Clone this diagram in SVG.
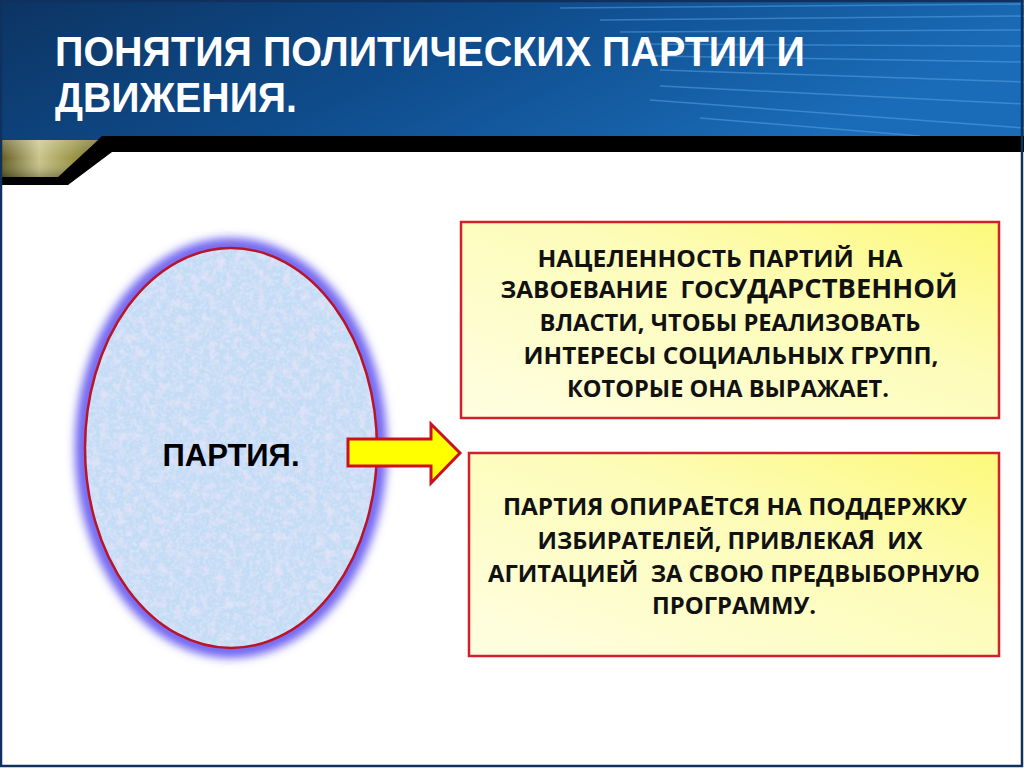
<svg xmlns="http://www.w3.org/2000/svg" width="1024" height="768" viewBox="0 0 1024 768">
<defs>
<linearGradient id="hdr" x1="0" y1="0" x2="1" y2="0.3">
<stop offset="0" stop-color="#0c3463"/>
<stop offset="0.5" stop-color="#0f4c8c"/>
<stop offset="1" stop-color="#1a6cb8"/>
</linearGradient>
<linearGradient id="gold" x1="0" y1="0" x2="1" y2="0">
<stop offset="0" stop-color="#5e5a1e"/>
<stop offset="0.4" stop-color="#c9c48a"/>
<stop offset="0.75" stop-color="#9a9444"/>
<stop offset="1" stop-color="#6e6a28"/>
</linearGradient>
<linearGradient id="goldv" x1="0" y1="0" x2="0" y2="1">
<stop offset="0" stop-color="#ffffff" stop-opacity="0.25"/>
<stop offset="0.5" stop-color="#ffffff" stop-opacity="0"/>
<stop offset="1" stop-color="#000000" stop-opacity="0.25"/>
</linearGradient>
<linearGradient id="boxfill" x1="0" y1="1" x2="1" y2="0">
<stop offset="0" stop-color="#fefee2"/>
<stop offset="0.6" stop-color="#fdfcb8"/>
<stop offset="1" stop-color="#fcf97a"/>
</linearGradient>
<filter id="glow" x="-20%" y="-20%" width="140%" height="140%">
<feGaussianBlur stdDeviation="5"/>
</filter>
<filter id="tex" x="0" y="0" width="100%" height="100%">
<feTurbulence type="fractalNoise" baseFrequency="0.12" numOctaves="3" seed="3" result="n"/>
<feColorMatrix in="n" type="matrix" values="0 0 0 0 0.88  0 0 0 0 0.78  0 0 0 0 0.94  1.6 0 0 0 -0.7" result="c"/>
<feComposite in="c" in2="SourceGraphic" operator="in" result="t"/>
<feTurbulence type="fractalNoise" baseFrequency="0.3" numOctaves="2" seed="9" result="n2"/>
<feColorMatrix in="n2" type="matrix" values="0 0 0 0 0.70  0 0 0 0 0.85  0 0 0 0 0.97  0 1.6 0 0 -0.7" result="c2"/>
<feComposite in="c2" in2="SourceGraphic" operator="in" result="t2"/>
<feMerge><feMergeNode in="SourceGraphic"/><feMergeNode in="t"/><feMergeNode in="t2"/></feMerge>
</filter>
<style>
.title{font-family:"Liberation Sans",Arial,sans-serif;font-weight:bold;font-size:43px;fill:#ffffff}
.bt{font-family:"Open Sans","Noto Sans",sans-serif;font-weight:bold;font-size:24px;fill:#111111;text-anchor:middle;white-space:pre}
.big{font-size:27px}
.box{fill:url(#boxfill);stroke:#d0202a;stroke-width:2.5}
.streak{stroke:#5aa8ec;stroke-width:1.5;opacity:0.5;fill:none}
</style>
</defs>
<rect width="1024" height="768" fill="#ffffff"/>
<g id="header">
<rect x="0" y="0" width="1024" height="142" fill="url(#hdr)"/>
<g>
<path class="streak" d="M560 8 L1024 4"/>
<path class="streak" d="M600 20 L1024 16"/>
<path class="streak" d="M620 32 L1024 30"/>
<path class="streak" d="M640 44 L1024 46"/>
<path class="streak" d="M650 56 L1024 62"/>
<path class="streak" d="M660 70 L1024 82"/>
<path class="streak" d="M660 86 L1024 104"/>
<path class="streak" d="M650 100 L1024 128"/>
<path class="streak" d="M700 118 L920 136"/>
</g>
<polygon points="0,176 58,176 102,136 1024,136 1024,152 112,152 68,185 0,185" fill="#000000"/>
<polygon points="0,140 98,140 58,177 0,177" fill="url(#gold)"/>
<polygon points="0,140 98,140 58,177 0,177" fill="url(#goldv)"/>
<text class="title" x="55" y="66" textLength="750" lengthAdjust="spacingAndGlyphs">ПОНЯТИЯ ПОЛИТИЧЕСКИХ ПАРТИИ И</text>
<text class="title" x="55" y="112" textLength="242" lengthAdjust="spacingAndGlyphs">ДВИЖЕНИЯ.</text>
</g>
<g id="partiya">
<ellipse cx="231" cy="448" rx="148" ry="202" fill="none" stroke="#6f63f0" stroke-width="16" filter="url(#glow)"/>
<ellipse cx="231" cy="448" rx="146" ry="200" fill="#c4dbf5" filter="url(#tex)"/>
<ellipse cx="231" cy="448" rx="146" ry="200" fill="none" stroke="#b8142a" stroke-width="2.5"/>
<text x="231" y="466" font-family="'Liberation Sans',Arial,sans-serif" font-weight="bold" font-size="31" fill="#000" text-anchor="middle">ПАРТИЯ.</text>
</g>
<g id="connectors">
<polygon points="348,439 431,439 431,424 460,453 431,483 431,466 348,466" fill="#ffff00" stroke="#cc1020" stroke-width="3" stroke-linejoin="miter"/>
</g>
<g id="box1">
<rect class="box" x="461" y="222" width="538" height="196"/>
<text class="bt" x="720" y="267" textLength="365" lengthAdjust="spacingAndGlyphs">НАЦЕЛЕННОСТЬ ПАРТИЙ  НА</text>
<text class="bt" x="729" y="298" textLength="457" lengthAdjust="spacingAndGlyphs">ЗАВОЕВАНИЕ  ГОС<tspan class="big">УДАРСТВЕННОЙ</tspan></text>
<text class="bt" x="730" y="331" textLength="381" lengthAdjust="spacingAndGlyphs">ВЛАСТИ, ЧТОБЫ РЕАЛИЗОВАТЬ</text>
<text class="bt" x="731" y="364" textLength="415" lengthAdjust="spacingAndGlyphs">ИНТЕРЕСЫ СОЦИАЛЬНЫХ ГРУПП,</text>
<text class="bt" x="728" y="397" textLength="322" lengthAdjust="spacingAndGlyphs">КОТОРЫЕ ОНА ВЫРАЖАЕТ.</text>
</g>
<g id="box2">
<rect class="box" x="469" y="453" width="530" height="203"/>
<text class="bt" x="735" y="515" textLength="464" lengthAdjust="spacingAndGlyphs">ПАРТИЯ ОПИРА<tspan class="big">Е</tspan>ТСЯ НА ПОДДЕРЖКУ</text>
<text class="bt" x="730" y="549" textLength="385" lengthAdjust="spacingAndGlyphs">ИЗБИРАТЕЛЕЙ, ПРИВЛЕКА<tspan font-size="26">Я</tspan>  ИХ</text>
<text class="bt" x="734" y="582" textLength="492" lengthAdjust="spacingAndGlyphs">АГИТАЦИЕЙ  ЗА СВОЮ ПРЕДВЫБОРНУЮ</text>
<text class="bt" x="734" y="614" textLength="164" lengthAdjust="spacingAndGlyphs">ПРОГРАММУ.</text>
</g>
<rect x="1" y="1" width="1021" height="765" fill="none" stroke="#10305e" stroke-width="2.5"/>
</svg>
